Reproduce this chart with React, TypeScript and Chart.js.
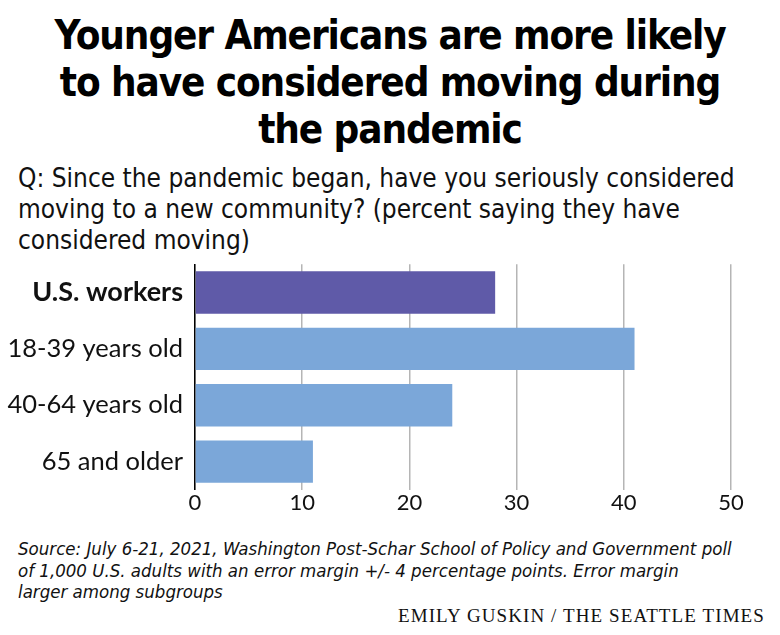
import React, { useEffect, useRef } from "react";
import { Chart, registerables } from "chart.js";

Chart.register(...registerables);

const categories = ["U.S. workers", "18-39 years old", "40-64 years old", "65 and older"];
const values = [28, 41, 24, 11];
const barColors = ["#5f5aa8", "#7ba7d9", "#7ba7d9", "#7ba7d9"];
const xTicks = [0, 10, 20, 30, 40, 50];

const titleLines = ["Younger Americans are more likely", "to have considered moving during", "the pandemic"];
const subtitleLines = [
  "Q: Since the pandemic began, have you seriously considered",
  "moving to a new community? (percent saying they have",
  "considered moving)",
];
const sourceLines = [
  "Source: July 6-21, 2021, Washington Post-Schar School of Policy and Government poll",
  "of 1,000 U.S. adults with an error margin +/- 4 percentage points. Error margin",
  "larger among subgroups",
];
const credit = "EMILY GUSKIN / THE SEATTLE TIMES";

const CONDENSED = '"DejaVu Sans Condensed", "Liberation Sans Narrow", sans-serif';
const LABEL_FONT = 'Lato, "Noto Sans", sans-serif';

export default function App() {
  const canvasRef = useRef<HTMLCanvasElement | null>(null);

  useEffect(() => {
    if (!canvasRef.current) return;
    const chart = new Chart(canvasRef.current, {
      type: "bar",
      data: {
        labels: categories,
        datasets: [
          {
            data: values,
            backgroundColor: barColors,
            barPercentage: 0.75,
            categoryPercentage: 1,
          },
        ],
      },
      options: {
        indexAxis: "y",
        animation: false,
        responsive: false,
        maintainAspectRatio: false,
        layout: { padding: { top: 10, right: 49, left: 0, bottom: 0 } },
        plugins: { legend: { display: false }, tooltip: { enabled: false } },
        scales: {
          x: {
            min: 0,
            max: 50,
            afterBuildTicks: (scale: any) => {
              scale.ticks = xTicks.map((v) => ({ value: v }));
            },
            grid: { display: true, color: "#b5b5b5", lineWidth: 1.5, drawTicks: false },
            border: { display: false },
            ticks: {
              padding: 0,
              color: "#111",
              font: { family: LABEL_FONT, size: 22 },
            },
          },
          y: {
            grid: { display: false, drawTicks: false },
            border: { display: true, color: "#000", width: 1.5 },
            afterFit: (scale: any) => {
              scale.width = 195;
            },
            ticks: {
              padding: 12,
              color: "#111",
              font: (ctx: any) => ({
                family: LABEL_FONT,
                size: ctx.index === 0 ? 27 : 25.5,
                weight: ctx.index === 0 ? "bold" : "normal",
              }),
            },
          },
        },
      },
    });
    return () => chart.destroy();
  }, []);

  const abs = (o: React.CSSProperties): React.CSSProperties => ({ position: "absolute", margin: 0, ...o });

  return (
    <div style={{ position: "absolute", left: 0, top: 0, width: 780, height: 635, background: "#fff", overflow: "hidden" }}>
      <div
        style={abs({
          top: 12,
          left: 0,
          width: 780,
          textAlign: "center",
          fontFamily: CONDENSED,
          fontWeight: "bold",
          fontSize: 40,
          lineHeight: "47px",
          letterSpacing: "-1.1px",
          color: "#000",
          whiteSpace: "nowrap",
        })}
      >
        {titleLines.map((l, i) => (
          <div key={i}>{l}</div>
        ))}
      </div>
      <div
        style={abs({
          top: 163,
          left: 18,
          fontFamily: CONDENSED,
          fontSize: 26,
          lineHeight: "31px",
          color: "#111",
          whiteSpace: "nowrap",
        })}
      >
        {subtitleLines.map((l, i) => (
          <div key={i}>{l}</div>
        ))}
      </div>
      <canvas ref={canvasRef} width={780} height={281} style={abs({ top: 237, left: 0, width: 780, height: 281 })} />
      <div
        style={abs({
          top: 538,
          left: 18,
          fontFamily: CONDENSED,
          fontStyle: "italic",
          fontSize: 18.5,
          lineHeight: "21.5px",
          color: "#111",
          whiteSpace: "nowrap",
        })}
      >
        {sourceLines.map((l, i) => (
          <div key={i}>{l}</div>
        ))}
      </div>
      <div
        style={abs({
          top: 605,
          right: 15,
          fontFamily: '"Liberation Serif", "DejaVu Serif", serif',
          fontSize: 19,
          letterSpacing: "1.1px",
          color: "#111",
          whiteSpace: "nowrap",
        })}
      >
        {credit}
      </div>
    </div>
  );
}
